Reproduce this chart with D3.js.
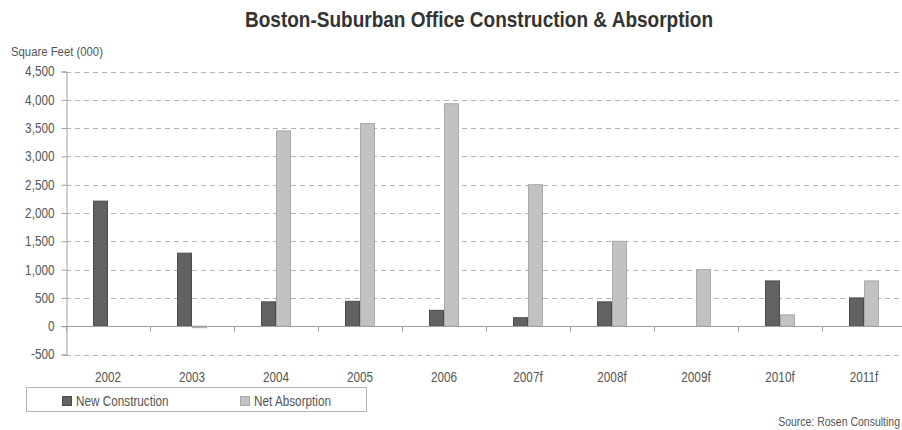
<!DOCTYPE html>
<html>
<head>
<meta charset="utf-8">
<script src="https://d3js.org/d3.v7.min.js"></script>
<style>
  body { margin: 0; background: #fff; }
  svg text { font-family: "Liberation Sans Narrow", "Liberation Sans", Arial, sans-serif; }
</style>
</head>
<body>
<div id="chart"></div>
<script>
// chart data
var years = ["2002", "2003", "2004", "2005", "2006", "2007f", "2008f", "2009f", "2010f", "2011f"];
var newConstruction = [2210, 1290, 430, 440, 280, 150, 430, 0, 800, 500];
var netAbsorption = [0, -25, 3450, 3580, 3930, 2500, 1500, 1000, 200, 800];
var seriesNames = ["New Construction", "Net Absorption"];
var yTicks = [-500, 0, 500, 1000, 1500, 2000, 2500, 3000, 3500, 4000, 4500];

var width = 902, height = 430;
var margin = {top: 71.5, left: 66, bottom: 354.5, right: 906};
var k = 0.84; // squeeze text to look like a condensed face

var svg = d3.select("#chart")
  .append("svg")
    .attr("width", width)
    .attr("height", height);

// helper for squeezed text placed at (tx, ty)
function condensed(sel, tx, ty) {
  return sel.attr("transform", "translate(" + tx + "," + ty + ") scale(" + k + ",1)");
}

// title
svg.append("text")
  .attr("x", 479)
  .attr("y", 26.5)
  .attr("text-anchor", "middle")
  .attr("textLength", 468)
  .attr("lengthAdjust", "spacingAndGlyphs")
  .style("font-size", "22px")
  .style("font-weight", "bold")
  .style("fill", "#333")
  .text("Boston-Suburban Office Construction & Absorption");

svg.append("text")
  .call(condensed, 11, 56)
  .style("font-size", "13.5px")
  .style("fill", "#555")
  .text("Square Feet (000)");

// scales
var x = d3.scaleBand()
  .domain(years)
  .range([margin.left, margin.right]);

var xSub = d3.scaleBand()
  .domain(seriesNames)
  .range([0, 30]);

var y = d3.scaleLinear()
  .domain([-500, 4500])
  .range([margin.bottom, margin.top]);

// gridlines (dashed)
svg.append("g")
  .selectAll("line")
  .data(yTicks.filter(function(d) { return d != 0; }))
  .enter()
  .append("line")
    .attr("x1", margin.left)
    .attr("x2", margin.right)
    .attr("y1", function(d) { return Math.round(y(d)) + 0.5; })
    .attr("y2", function(d) { return Math.round(y(d)) + 0.5; })
    .attr("stroke", "#b4b4b4")
    .attr("stroke-width", 1)
    .attr("stroke-dasharray", "5,4");

// Y axis
var yAxis = svg.append("g")
  .attr("transform", "translate(" + (margin.left + 0.5) + ",0)")
  .call(d3.axisLeft(y).tickValues(yTicks).tickSize(5).tickPadding(7)
    .tickFormat(function(d) { return d3.format(",")(d).replace("\u2212", "-"); }));
yAxis.select(".domain").attr("stroke", "#a0a0a0");
yAxis.selectAll(".tick line").attr("stroke", "#a0a0a0");
yAxis.selectAll("text")
  .attr("x", -12 / k)
  .attr("transform", "scale(" + k + ",1)")
  .style("font-size", "14px")
  .style("fill", "#555")
  .style("font-family", "'Liberation Sans Narrow', 'Liberation Sans', Arial, sans-serif");

// bars
var rows = years.map(function(d, i) {
  return {year: d, values: [newConstruction[i], netAbsorption[i]]};
});
var fills = ["#626262", "#c2c2c2"];
var strokes = ["#4c4c4c", "#a9a9a9"];

svg.append("g")
  .selectAll("g")
  .data(rows)
  .enter()
  .append("g")
    .attr("transform", function(d) { return "translate(" + (x(d.year) + x.bandwidth() / 2 - 15) + ",0)"; })
  .selectAll("rect")
  .data(function(d) { return d.values.map(function(v, j) { return {name: seriesNames[j], value: v, j: j}; }); })
  .enter()
  .filter(function(d) { return d.value != 0; })
  .append("rect")
    .attr("x", function(d) { return xSub(d.name) + 0.5; })
    .attr("y", function(d) { return Math.min(y(d.value), y(0)); })
    .attr("width", xSub.bandwidth() - 1)
    .attr("height", function(d) { return Math.max(1.5, Math.abs(y(d.value) - y(0))); })
    .attr("fill", function(d) { return fills[d.j]; })
    .attr("stroke", function(d) { return strokes[d.j]; })
    .attr("stroke-width", 1);

// X axis at zero
var xAxis = svg.append("g")
  .attr("transform", "translate(0," + (Math.round(y(0)) + 0.5) + ")")
  .call(d3.axisBottom(x).tickSize(0).tickPadding(0).tickFormat(""));
xAxis.select(".domain").attr("stroke", "#a0a0a0").attr("d", "M" + (margin.left - 5) + ",0H" + margin.right);

// category boundary ticks
xAxis.append("g")
  .selectAll("line")
  .data(years)
  .enter()
  .append("line")
    .attr("x1", function(d) { return Math.round(x(d)) + 0.5; })
    .attr("x2", function(d) { return Math.round(x(d)) + 0.5; })
    .attr("y1", 0)
    .attr("y2", 5)
    .attr("stroke", "#a0a0a0");

// year labels
svg.append("g")
  .selectAll("text")
  .data(years)
  .enter()
  .append("text")
    .attr("transform", function(d) { return "translate(" + (x(d) + x.bandwidth() / 2) + ",382) scale(" + k + ",1)"; })
    .attr("text-anchor", "middle")
    .style("font-size", "14px")
    .style("fill", "#555")
    .text(function(d) { return d; });

// legend
svg.append("rect")
  .attr("x", 26.5)
  .attr("y", 387.5)
  .attr("width", 340)
  .attr("height", 24)
  .attr("fill", "none")
  .attr("stroke", "#b4b4b4");

var legendX = [62, 240];
var legend = svg.append("g")
  .selectAll("g")
  .data(seriesNames)
  .enter()
  .append("g")
    .attr("transform", function(d, i) { return "translate(" + legendX[i] + ",396)"; });
legend.append("rect")
  .attr("x", 0.5)
  .attr("y", 0.5)
  .attr("width", 9)
  .attr("height", 9)
  .attr("fill", function(d, i) { return fills[i]; })
  .attr("stroke", function(d, i) { return strokes[i]; });
legend.append("text")
  .call(condensed, 14, 10)
  .style("font-size", "14px")
  .style("fill", "#555")
  .text(function(d) { return d; });

// source
svg.append("text")
  .call(condensed, 900, 426)
  .attr("text-anchor", "end")
  .style("font-size", "12.5px")
  .style("fill", "#555")
  .text("Source: Rosen Consulting");
</script>
</body>
</html>
